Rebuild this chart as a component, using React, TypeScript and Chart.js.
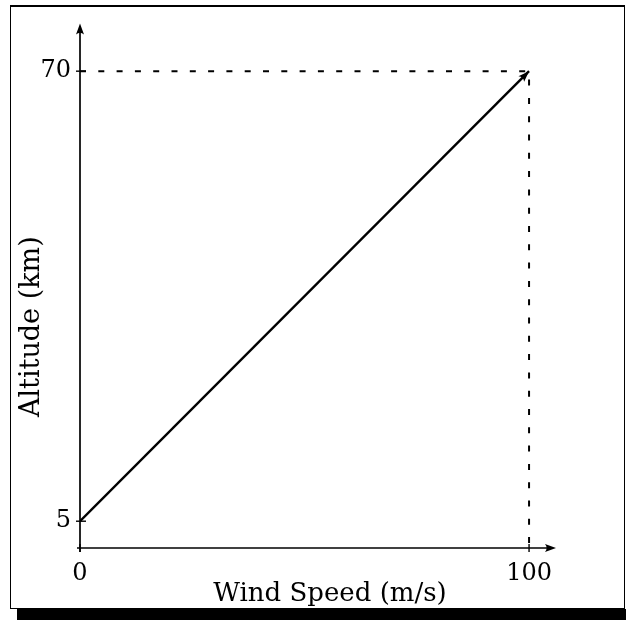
import React, { useEffect, useRef } from "react";
import { Chart, registerables } from "chart.js";

Chart.register(...registerables);

// ---- data ----
const windSpeed = [0, 100]; // m/s
const altitude = [5, 70]; // km
const xTickValues = [0, 100];
const yTickValues = [5, 70];
const xAxisMax = 106;
const yAxisMin = 1.13;
const yAxisMax = 76.9;
const xTitle = "Wind Speed (m/s)";
const yTitle = "Altitude (km)";

const FONT = "'DejaVu Serif', serif";

function arrowHead(ctx: CanvasRenderingContext2D, tipX: number, tipY: number, angle: number, len: number, half: number) {
  ctx.save();
  ctx.translate(tipX, tipY);
  ctx.rotate(angle);
  ctx.beginPath();
  ctx.moveTo(0, 0);
  ctx.lineTo(-len, -half);
  ctx.quadraticCurveTo(-len * 0.7, 0, -len, half);
  ctx.closePath();
  ctx.fill();
  ctx.restore();
}

const decorPlugin = {
  id: "decor",
  afterDraw(chart: any) {
    const { ctx, chartArea, scales } = chart;
    const xs = scales.x;
    const ys = scales.y;
    const x0 = xs.getPixelForValue(0);
    const yBase = ys.getPixelForValue(yAxisMin);
    ctx.save();
    ctx.strokeStyle = "#000";
    ctx.fillStyle = "#000";
    ctx.lineWidth = 1.7;
    ctx.setLineDash([]);
    // y axis
    ctx.beginPath();
    ctx.moveTo(x0, yBase + 4);
    ctx.lineTo(x0, chartArea.top + 4);
    ctx.stroke();
    arrowHead(ctx, x0, chartArea.top, -Math.PI / 2, 11, 4);
    // x axis
    ctx.beginPath();
    ctx.moveTo(x0 - 3, yBase);
    ctx.lineTo(chartArea.right - 4, yBase);
    ctx.stroke();
    arrowHead(ctx, chartArea.right, yBase, 0, 11, 4);
    // tick crosses
    ctx.lineWidth = 1.4;
    yTickValues.forEach((v) => {
      const py = ys.getPixelForValue(v);
      ctx.beginPath();
      ctx.moveTo(x0 - 4, py);
      ctx.lineTo(x0 + 6, py);
      ctx.stroke();
    });
    xTickValues.forEach((v) => {
      const px = xs.getPixelForValue(v);
      ctx.beginPath();
      ctx.moveTo(px, yBase - 4);
      ctx.lineTo(px, yBase + 4);
      ctx.stroke();
    });
    // arrow at end of the data line
    const n = windSpeed.length;
    const ex = xs.getPixelForValue(windSpeed[n - 1]);
    const ey = ys.getPixelForValue(altitude[n - 1]);
    const sx = xs.getPixelForValue(windSpeed[n - 2]);
    const sy = ys.getPixelForValue(altitude[n - 2]);
    arrowHead(ctx, ex, ey, Math.atan2(ey - sy, ex - sx), 11, 4);
    // titles
    ctx.font = `26px ${FONT}`;
    ctx.textAlign = "center";
    ctx.textBaseline = "alphabetic";
    ctx.fillText(xTitle, (chartArea.left + chartArea.right) / 2 + 12, 601);
    ctx.save();
    ctx.translate(39, (chartArea.top + chartArea.bottom) / 2 + 41);
    ctx.rotate(-Math.PI / 2);
    ctx.font = `27px ${FONT}`;
    ctx.fillText(yTitle, 0, 0);
    ctx.restore();
    ctx.restore();
  },
};

export default function App() {
  const ref = useRef<HTMLCanvasElement | null>(null);
  useEffect(() => {
    document.body.style.margin = "0";
    if (!ref.current) return;
    const chart = new Chart(ref.current, {
      type: "scatter",
      data: {
        datasets: [
          {
            data: windSpeed.map((x, i) => ({ x, y: altitude[i] })),
            showLine: true,
            borderColor: "#000",
            borderWidth: 2.4,
            pointRadius: 0,
          },
          {
            data: [
              { x: xTickValues[0], y: yTickValues[1] },
              { x: xTickValues[1], y: yTickValues[1] },
              { x: xTickValues[1], y: yAxisMin },
            ],
            showLine: true,
            borderColor: "#000",
            borderWidth: 2,
            borderDash: [6, 12.3],
            pointRadius: 0,
          },
        ],
      },
      options: {
        responsive: false,
        animation: false,
        layout: { padding: { left: 0, top: 20, right: 70, bottom: 0 } },
        plugins: { legend: { display: false }, tooltip: { enabled: false } },
        scales: {
          x: {
            type: "linear",
            min: 0,
            max: xAxisMax,
            grid: { display: false, drawTicks: false, tickLength: 0 },
            border: { display: false },
            ticks: {
              color: "#000",
              font: { family: FONT, size: 24 },
              padding: 11,
              maxRotation: 0,
              autoSkip: false,
            },
            afterBuildTicks: (s: any) => {
              s.ticks = xTickValues.map((v) => ({ value: v }));
            },
            afterFit: (s: any) => {
              s.height = 73;
            },
          },
          y: {
            type: "linear",
            min: yAxisMin,
            max: yAxisMax,
            grid: { display: false, drawTicks: false, tickLength: 0 },
            border: { display: false },
            ticks: {
              color: "#000",
              font: { family: FONT, size: 24 },
              padding: 9,
              autoSkip: false,
            },
            afterBuildTicks: (s: any) => {
              s.ticks = yTickValues.map((v) => ({ value: v }));
            },
            afterFit: (s: any) => {
              s.width = 80;
            },
          },
        },
      },
      plugins: [decorPlugin],
    });
    return () => chart.destroy();
  }, []);

  return (
    <div style={{ position: "absolute", left: 0, top: 0, width: 626, height: 621, background: "#fff", overflow: "hidden" }}>
      <div
        style={{
          position: "absolute",
          left: 10,
          top: 5,
          width: 613,
          height: 601,
          borderTop: "2px solid #000",
          borderLeft: "1.5px solid #000",
          borderRight: "1.5px solid #000",
          borderBottom: "1.5px solid #000",
        }}
      />
      <div style={{ position: "absolute", left: 17, top: 609, width: 609, height: 11, background: "#000" }} />
      <canvas ref={ref} width={626} height={621} style={{ position: "absolute", left: 0, top: 0 }} />
    </div>
  );
}
